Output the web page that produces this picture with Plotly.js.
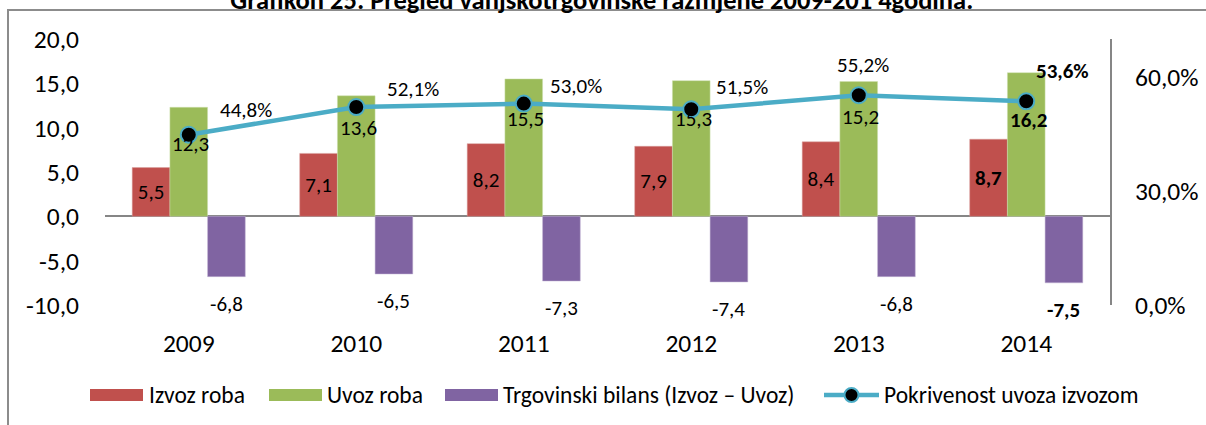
<!DOCTYPE html>
<html>
<head>
<meta charset="utf-8">
<script src="https://cdn.plot.ly/plotly-3.0.1.min.js"></script>
<style>
html,body{margin:0;padding:0;background:#fff;overflow:hidden;}
#chart{width:1206px;height:425px;}
</style>
</head>
<body>
<div id="chart"></div>
<script>
// ---- data ----
const years = ['2009','2010','2011','2012','2013','2014'];
const izvoz = [5.5, 7.1, 8.2, 7.9, 8.4, 8.7];
const uvoz = [12.3, 13.6, 15.5, 15.3, 15.2, 16.2];
const bilans = [-6.8, -6.5, -7.3, -7.4, -6.8, -7.5];
const pokrivenost = [44.8, 52.1, 53.0, 51.5, 55.2, 53.6];
const leftTicks = [-10, -5, 0, 5, 10, 15, 20];
const rightTicks = [0, 30, 60];
const seriesNames = ['Izvoz roba', 'Uvoz roba', 'Trgovinski bilans (Izvoz – Uvoz)', 'Pokrivenost uvoza izvozom'];
const titleText = 'Grafikon 25: Pregled vanjskotrgovinske razmjene 2009-201 4godina.';

// label placement offsets (pixels)
const uvozLabelShift = [-9, -21, -15, -10, -22, -19];
const pctLabelDx = [57, 57, 52, 51, 4, 36];
const pctLabelDy = [25, 18, 18, 22, 30, 30];

const fmt = v => v.toFixed(1).replace('.', ',');
const last = years.length - 1;
const wrap = (s, i) => i === last ? '<b>' + s + '</b>' : s;

const FONT = 'Carlito, Lato, "Open Sans", sans-serif';
const colors = {izvoz:'#C0504D', uvoz:'#9BBB59', bilans:'#8064A2', line:'#4BACC6'};
const LABEL = 21, TICK = 25.5, LEG = 23.5;

// geometry helpers (pixel -> paper)
const W = 1206, H = 425, M = {l:105, r:96, t:39, b:120};
const PW = W - M.l - M.r, PH = H - M.t - M.b;
const px = p => (p - M.l) / PW;
const py = p => (H - M.b - p) / PH;

const traces = [
  {type:'bar', name:seriesNames[0], x:years, y:izvoz,
   marker:{color:colors.izvoz, line:{color:'#d9a09e', width:0.5}},
   text:izvoz.map((v,i)=>wrap(fmt(v),i)), textposition:'inside', insidetextanchor:'middle',
   textfont:{family:FONT, size:LABEL, color:'#000'}, textangle:0, cliponaxis:false, hoverinfo:'skip'},
  {type:'bar', name:seriesNames[1], x:years, y:uvoz,
   marker:{color:colors.uvoz, line:{color:'#cfe0b0', width:0.5}},
   textposition:'none', hoverinfo:'skip'},
  {type:'bar', name:seriesNames[2], x:years, y:bilans,
   marker:{color:colors.bilans, line:{color:'#c3b5d5', width:0.5}},
   textposition:'none', hoverinfo:'skip'},
  {type:'scatter', mode:'lines+markers', name:seriesNames[3], x:years, y:pokrivenost, yaxis:'y2',
   line:{color:colors.line, width:4.5},
   marker:{color:'#000', size:16, line:{color:colors.line, width:2}}, hoverinfo:'skip'}
];

const annotations = [];
years.forEach((yr, i) => {
  annotations.push({x:i, y:pokrivenost[i], xref:'x', yref:'y2', text:wrap(fmt(uvoz[i]), i),
    showarrow:false, yshift:uvozLabelShift[i], xshift:2, font:{family:FONT, size:LABEL, color:'#000'}});
  annotations.push({x:i, y:pokrivenost[i], xref:'x', yref:'y2', text:wrap(fmt(pokrivenost[i]) + '%', i),
    showarrow:false, xshift:pctLabelDx[i], yshift:pctLabelDy[i], font:{family:FONT, size:LABEL, color:'#000'}});
  annotations.push({x:i + 0.225, y:bilans[i], xref:'x', yref:'y', text:wrap(fmt(bilans[i]), i),
    showarrow:false, yshift:-27, font:{family:FONT, size:LABEL, color:'#000'}});
});

// custom legend (swatches + text)
const shapes = [{type:'rect', xref:'paper', yref:'paper', x0:px(8), x1:px(1215), y0:py(440), y1:py(10),
           line:{color:'#8c8c8c', width:2}, fillcolor:'rgba(0,0,0,0)', layer:'above'}];
const legY = 395;
const legItems = [
  {sx:90, ex:143, tx:147, color:colors.izvoz, kind:'bar'},
  {sx:269, ex:322, tx:325, color:colors.uvoz, kind:'bar'},
  {sx:445, ex:498, tx:501, color:colors.bilans, kind:'bar'},
  {sx:824, ex:879, tx:882, color:colors.line, kind:'line'}
];
legItems.forEach((it, k) => {
  if (it.kind === 'bar') {
    shapes.push({type:'rect', xref:'paper', yref:'paper', x0:px(it.sx), x1:px(it.ex),
      y0:py(legY + 6), y1:py(legY - 6), fillcolor:it.color, line:{width:0}});
  } else {
    shapes.push({type:'line', xref:'paper', yref:'paper', x0:px(it.sx), x1:px(it.ex),
      y0:py(legY), y1:py(legY), line:{color:it.color, width:4.5}});
    shapes.push({type:'circle', xref:'paper', yref:'paper', xsizemode:'pixel', ysizemode:'pixel',
      xanchor:px((it.sx + it.ex) / 2), yanchor:py(legY), x0:-7, x1:7, y0:-7, y1:7,
      fillcolor:'#000', line:{color:it.color, width:2}});
  }
  annotations.push({xref:'paper', yref:'paper', x:px(it.tx), y:py(legY), xanchor:'left', yanchor:'middle',
    text:seriesNames[k], showarrow:false, font:{family:FONT, size:LEG, color:'#000'}});
});

const layout = {
  width:W, height:H,
  margin:{l:M.l, r:M.r, t:M.t, b:M.b, pad:0},
  paper_bgcolor:'#fff', plot_bgcolor:'rgba(0,0,0,0)',
  font:{family:FONT, size:TICK, color:'#000'},
  title:{text:'<b>' + titleText + '</b>', font:{family:FONT, size:26.5, color:'#000'},
         x:0.499, xref:'container', xanchor:'center', y:1.0, yref:'container', yanchor:'middle'},
  barmode:'group', bargap:0.325, bargroupgap:0,
  showlegend:false,
  xaxis:{type:'category', range:[-0.5, 5.5], showline:false, showgrid:false, zeroline:false,
         ticks:'', ticklabelstandoff:20, tickfont:{family:FONT, size:TICK, color:'#000'}, fixedrange:true},
  yaxis:{range:[-10, 20], tickvals:leftTicks, ticktext:leftTicks.map(fmt), showgrid:false,
         showline:false, zeroline:true, zerolinecolor:'#868686', zerolinewidth:2,
         ticks:'', ticklabelstandoff:25, tickfont:{family:FONT, size:TICK, color:'#000'}, fixedrange:true},
  yaxis2:{overlaying:'y', side:'right', range:[0, 70], tickvals:rightTicks,
          ticktext:rightTicks.map(v => fmt(v) + '%'), showgrid:false, zeroline:false,
          showline:true, linecolor:'#868686', linewidth:2, ticks:'', ticklabelstandoff:18,
          tickfont:{family:FONT, size:TICK, color:'#000'}, fixedrange:true},
  annotations:annotations,
  shapes:shapes
};

Plotly.newPlot('chart', traces, layout, {displayModeBar:false, staticPlot:true});
</script>
</body>
</html>
